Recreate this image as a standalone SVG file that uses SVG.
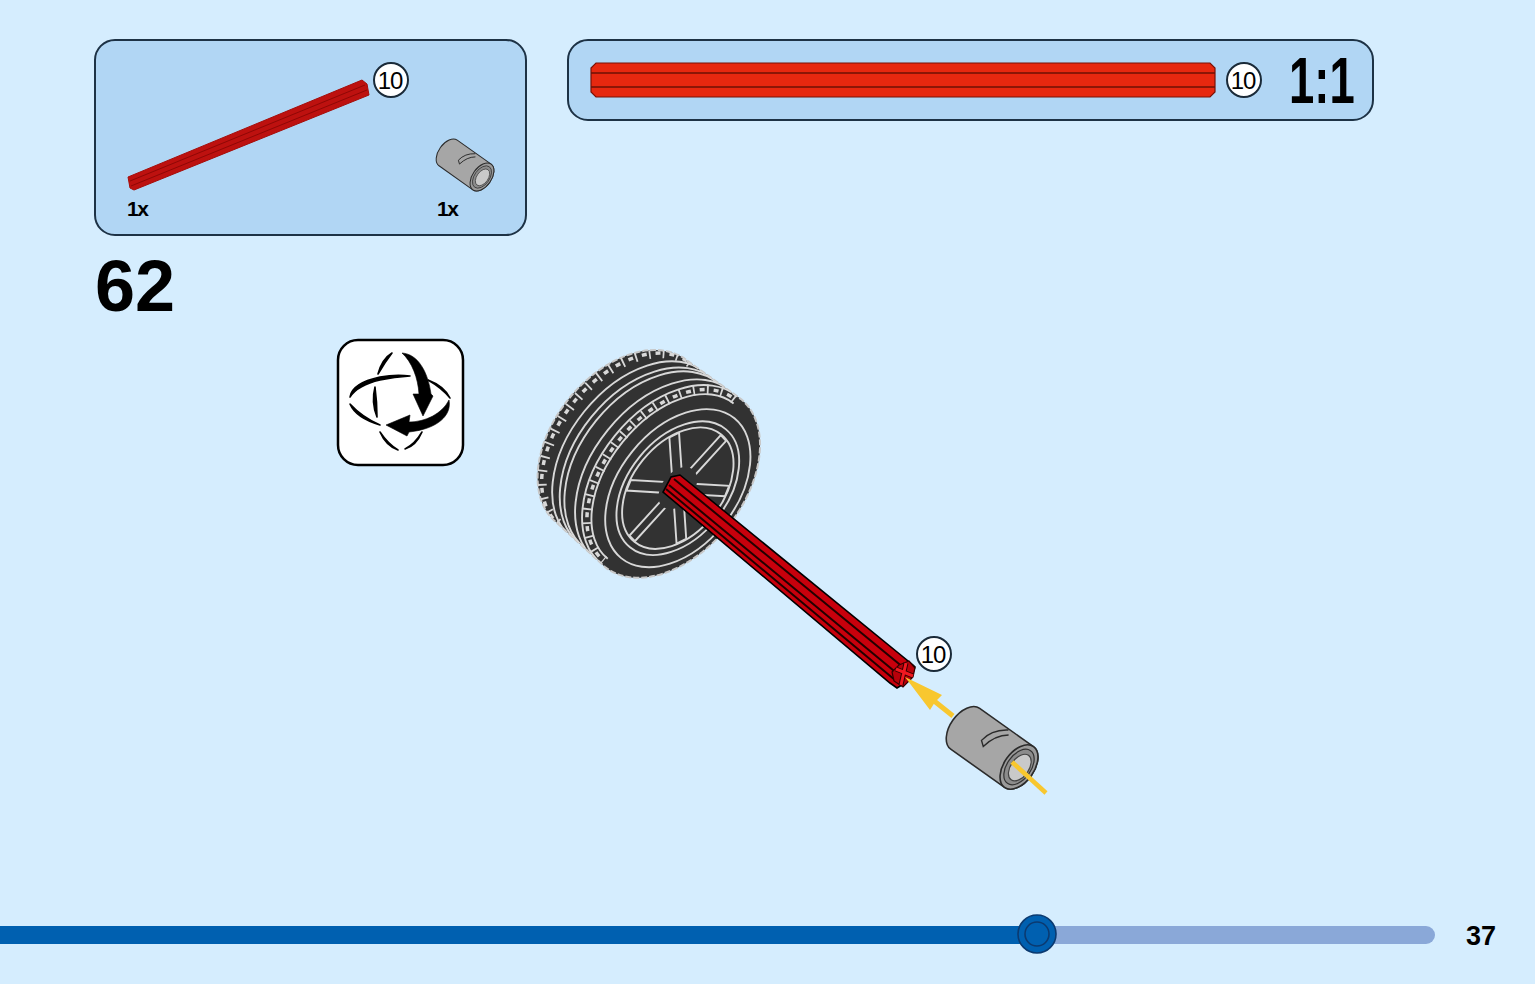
<svg xmlns="http://www.w3.org/2000/svg" xmlns:xlink="http://www.w3.org/1999/xlink" width="1535" height="984" viewBox="0 0 1535 984">
<style>
.panel{fill:#b1d6f4;stroke:#1d3245;stroke-width:2}
.badge circle{fill:#fff;stroke:#1a2a38;stroke-width:2}
.badge text{font:24px "Liberation Sans",Arial,sans-serif;text-anchor:middle;letter-spacing:-1px;fill:#000}
.b{font-family:"Liberation Sans",Arial,sans-serif;font-weight:bold;fill:#000}
.tl{fill:none;stroke:#d8d8d8;stroke-width:1.9}
.sc{vector-effect:non-scaling-stroke}
.ic{fill:#000;stroke:#000;stroke-width:.6}
.it{fill:#000;stroke:#000;stroke-width:1.6;stroke-linejoin:round}
.rung{fill:none;stroke:#d8d8d8;stroke-width:10;stroke-dasharray:1.8 12.2}
.box{fill:none;stroke:#d8d8d8;stroke-width:3.5;stroke-dasharray:5 9;stroke-dashoffset:-4}
</style>
<defs>
<filter id="soft" x="-5%" y="-5%" width="110%" height="110%"><feGaussianBlur stdDeviation=".45"/></filter>
<clipPath id="tireClip"><path d="M-66,-104L0,-108A70,108 0 0 1 0,108L-66,104A68,104 0 0 1 -66,-104Z"/></clipPath>
<g id="pin">
<path d="M-66,-25L0,-25A15,25 0 0 1 0,25L-66,25A15,25 0 0 1 -66,-25Z" fill="#a6a6a6" stroke="#2b2b2b" stroke-width="1.6"/>
<ellipse rx="15" ry="25" fill="#9a9a9a" stroke="#2b2b2b" stroke-width="1.6"/>
<ellipse rx="12" ry="20" fill="#8c8c8c" stroke="#333" stroke-width="1.2"/>
<ellipse cx="1" rx="9" ry="15" fill="#c9c9c9" stroke="#444" stroke-width="1.2"/>
<path d="M-30,-24Q-44,-15 -46,0L-41,4Q-38,-12 -27,-20" fill="#a6a6a6" stroke="#2b2b2b" stroke-width="1.4"/>
</g>
</defs>
<rect id="background" width="1535" height="984" fill="#d5edfe"/>

<g id="parts-panel">
<rect class="panel" x="95" y="40" width="431" height="195" rx="20"/>
<g id="parts-axle">
<polygon points="128,177 362,80 367,84 369,95 134,190 130,188" fill="#bd110f" stroke="#a50d0a" stroke-width="1"/>
<path d="M130,181L365,85M131,186L367,90" stroke="#8f0806" stroke-width="1" fill="none"/>
</g>
<use id="parts-pin" xlink:href="#pin" href="#pin" transform="translate(482,177) rotate(35.4) scale(.63)"/>
<g class="badge"><circle cx="391" cy="80" r="17"/><text x="390" y="89">10</text></g>
<text class="b" x="127" y="216" font-size="21" letter-spacing="-1.5">1x</text>
<text class="b" x="437" y="216" font-size="21" letter-spacing="-1.5">1x</text>
</g>

<g id="scale-panel">
<rect class="panel" x="568" y="40" width="805" height="80" rx="20"/>
<polygon points="596,63 1210,63 1215,68 1215,92 1210,97 596,97 591,92 591,68" fill="#e7280f" stroke="#7a1206" stroke-width="1.2"/>
<path d="M591,73H1215M591,87H1215" stroke="#6f1005" stroke-width="1.4"/>
<g class="badge"><circle cx="1244" cy="80" r="17"/><text x="1243" y="89">10</text></g>
<text class="b" transform="translate(1289,103) scale(.71,1)" font-size="64">1:1</text>
</g>

<text id="step-number" class="b" x="95" y="311" font-size="72">62</text>

<g id="rotate-icon">
<rect x="338" y="340" width="125" height="125" rx="20" fill="#fff" stroke="#000" stroke-width="2.5"/>
<path class="ic" d="M402,353C418,354 428,372 431,394L433,396L423,416L413,394L419,394C418,378 412,362 402,353Z"/>
<path class="ic" d="M449,400C452,415 438,429 409,432L407,436L386,425L410,415L409,422C425,422 442,414 449,400Z"/>
<path class="it" d="M378,374Q382,359 392,353Q385,362 378,374Z"/>
<path class="it" d="M350,397Q352,383 380,377Q396,374 410,376Q394,377 380,380Q358,385 350,397Z"/>
<path class="it" d="M428,380Q444,386 450,398Q442,388 428,380Z"/>
<path class="it" d="M350,404Q356,418 380,425Q362,417 350,404Z"/>
<path class="it" d="M375,387Q371,402 377,417Q377,402 375,387Z"/>
<path class="it" d="M380,432Q386,446 398,450Q388,444 380,432Z"/>
<path class="it" d="M405,449Q416,446 422,432Q415,444 405,449Z"/>
</g>

<g id="wheel" filter="url(#soft)">
<g transform="translate(673,483) rotate(39)">
<path d="M-66,-104L0,-108A70,108 0 0 1 0,108L-66,104A68,104 0 0 1 -66,-104Z" fill="#333" stroke="#c8c8c8" stroke-width="2" stroke-dasharray="6 2"/>
<g clip-path="url(#tireClip)">
<path class="tl" d="M-3,-100A62,100 0 0 0 -3,100"/>
<path class="rung" d="M-5,-104A64,104 0 0 0 -5,104"/>
<path class="box" d="M-5,-104A64,104 0 0 0 -5,104"/>
<path class="tl" d="M-5,-108A70,108 0 0 0 -5,108"/>
<path class="tl" d="M-14,-108A70,108 0 0 0 -14,108"/>
<path class="tl" d="M-29,-106A70,106 0 0 0 -29,106"/>
<path class="tl" d="M-35,-106A70,106 0 0 0 -35,106"/>
<path class="tl" d="M-46,-106A68,106 0 0 0 -46,106"/>
<path class="rung" d="M-62,-104A66,104 0 0 0 -62,104"/>
<path class="box" d="M-62,-104A66,104 0 0 0 -62,104"/>
</g>
<g transform="translate(7,1) scale(.65,1)">
<circle class="tl sc" r="90"/>
<circle class="tl sc" r="76"/>
<circle class="tl sc" r="69"/>
<g id="spokes">
<rect class="tl sc" x="18" y="-6" width="50" height="12" transform="rotate(-85)"/>
<rect class="tl sc" x="18" y="-6" width="50" height="12" transform="rotate(-25)"/>
<rect class="tl sc" x="18" y="-6" width="50" height="12" transform="rotate(35)"/>
<rect class="tl sc" x="18" y="-6" width="50" height="12" transform="rotate(95)"/>
<rect class="tl sc" x="18" y="-6" width="50" height="12" transform="rotate(155)"/>
<rect class="tl sc" x="18" y="-6" width="50" height="12" transform="rotate(215)"/>
</g>
<circle r="24" fill="#333"/>
</g>
</g>
</g>

<g id="axle">
<polygon points="680,475 671,477 663,492 890,683 897,688 910,680 915,667 913,665" fill="#c8000c" stroke="#000" stroke-width="1.6"/>
<path d="M674,479L904,668M669,485L899,675M666,489L895,680" stroke="#200" stroke-width="2" fill="none"/>
<polygon points="899,665 909,661 915,668 913,677 903,687 894,681 892,672" fill="#b8000a" stroke="#300" stroke-width="1.2"/>
<path d="M896,669L913,676M906,663L901,685" stroke="#300" stroke-width="5"/>
<path d="M896,669L913,676M906,663L901,685" stroke="#f01820" stroke-width="3"/>
</g>

<use id="pin-part" xlink:href="#pin" href="#pin" transform="translate(1019,767) rotate(35.4)"/>

<g id="connectors">
<path d="M933,700L953,716" stroke="#f8c72f" stroke-width="5" fill="none"/>
<polygon points="905,677 942,695 935,702 930,710" fill="#f8c72f"/>
<path d="M1012,762L1046,793" stroke="#f8c72f" stroke-width="4.5" fill="none"/>
</g>

<g class="badge" id="step-badge"><circle cx="934" cy="654" r="17"/><text x="933" y="663">10</text></g>

<g id="progress">
<rect x="1000" y="926" width="435" height="18" rx="9" fill="#8aa8d8"/>
<rect x="0" y="926" width="1037" height="18" fill="#0060b0"/>
<circle cx="1037" cy="934" r="19" fill="#0060b0" stroke="#0b3a70" stroke-width="1.6"/>
<circle cx="1037" cy="934" r="12" fill="#0060b0" stroke="#0b3a70" stroke-width="1.6"/>
</g>
<text id="page-number" class="b" x="1466" y="945" font-size="27">37</text>
</svg>
